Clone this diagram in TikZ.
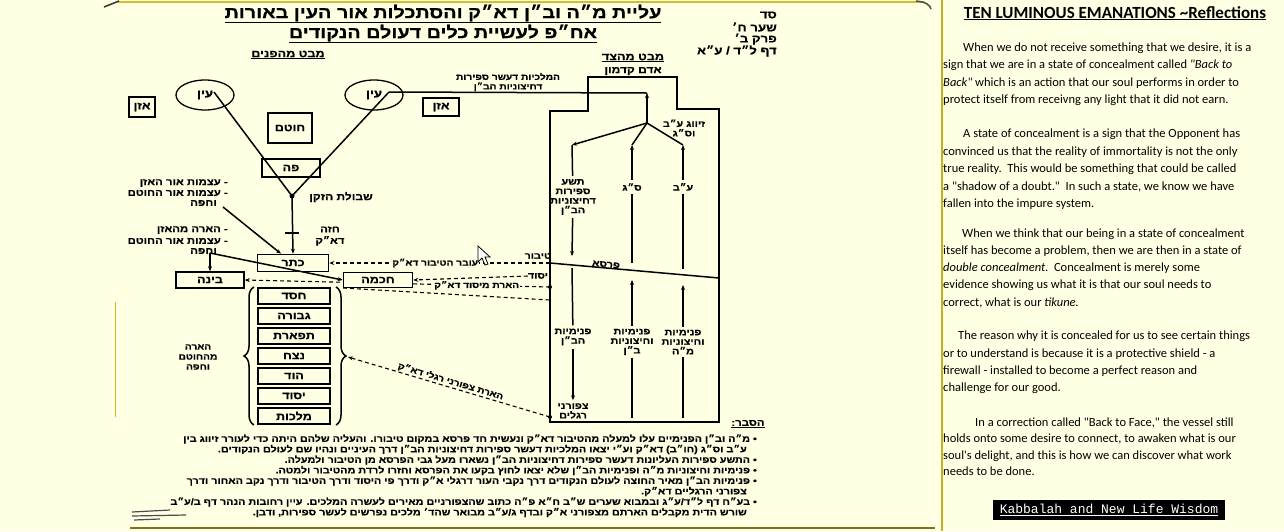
\documentclass[tikz,border=0pt]{standalone}
\usepackage{fontspec}
\setmainfont{Carlito}[Ligatures=TeXOff]
\newfontfamily\hebfont[Script=Hebrew,FakeStretch=1.2,BoldFeatures={FakeBold=0.6}]{Liberation Sans}
\newfontfamily\kbfont{Liberation Mono}
\TeXXeTstate=1
\usetikzlibrary{arrows.meta,shapes.geometric,decorations.pathreplacing}
\newcommand{\heb}[1]{{\hebfont\bfseries\beginR #1\endR}}
\definecolor{paper}{RGB}{255,255,228}
\definecolor{scanline}{RGB}{214,190,40}
\definecolor{panelline}{RGB}{196,176,30}

\begin{document}
\begin{tikzpicture}[x=1pt,y=-1pt,>={Stealth[length=5pt,width=4pt]},
    wire/.style={line width=1.5pt},
    dashline/.style={line width=1.1pt, dash pattern=on 4pt off 3pt},
    face/.style={draw, line width=1.5pt, fill=paper, inner sep=0pt, font=\fontsize{10.5}{11}\selectfont},
    sefira/.style={face, minimum width=72pt, minimum height=16pt},
    eye/.style={draw, ellipse, line width=1.3pt, inner sep=0pt, minimum width=58pt, minimum height=30pt, font=\fontsize{11}{12}\selectfont},
    lbl/.style={inner sep=0pt, align=center, font=\fontsize{9}{9.5}\selectfont},
    collbl/.style={lbl, inner sep=3pt},
    note/.style={anchor=east, inner sep=0pt, font=\fontsize{9.5}{10}\selectfont},
    hdr/.style={anchor=east, inner sep=0pt, font=\fontsize{11}{12}\selectfont},
    remark/.style={anchor=east, inner sep=0pt, font=\fontsize{9}{10}\selectfont},
    txt/.style={anchor=base west, inner sep=0pt, font=\fontsize{12.5}{15}\selectfont}]

  % paper
  \fill[paper] (0,0) rectangle (1284,531);
  \useasboundingbox (0,0) rectangle (1284,531);
  \draw[panelline, line width=1.2pt] (942,0) -- (942,531);
  \draw[scanline, line width=2pt] (118,2) -- (925,2);
  \draw[black!70, line width=1.5pt] (916,1) .. controls (926,2) and (930,5) .. (931,9);
  \draw[black!80, line width=1.5pt] (104,7) -- (119,1);
  \draw[scanline!60!black, line width=1.5pt] (130,528) -- (935,528);
  \draw[scanline, line width=0.8pt] (115,302) -- (115,417);
  \draw[black!70, line width=1.2pt] (132,512) -- (170,510) (132,516) -- (186,515) (134,520) -- (160,519);

  % titles
  \node[inner sep=0pt, font=\fontsize{16.5}{18}\selectfont] (titleA) at (443,14) {\underline{\heb{עליית מ״ה וב״ן דא״ק והסתכלות אור העין באורות}}};
  \node[inner sep=0pt, font=\fontsize{16.5}{18}\selectfont] (titleB) at (443,34) {\underline{\heb{אח״פ לעשיית כלים דעולם הנקודים}}};
  \node[hdr] (pg) at (777,15) {\heb{סד}};
  \node[hdr] (gate) at (777,27) {\heb{שער ח׳}};
  \node[hdr] (chap) at (777,39) {\heb{פרק ב׳}};
  \node[hdr] (leaf) at (777,51) {\heb{דף ל״ד / ע״א}};
  \node[lbl, font=\fontsize{10.5}{11}\selectfont] (frontview) at (288,55) {\underline{\heb{מבט מהפנים}}};
  \node[lbl, font=\fontsize{10.5}{11}\selectfont] (sideview) at (633,58) {\underline{\heb{מבט מהצד}}};

  % front view
  \node[eye] (eyeL) at (205,95) {\heb{עין}};
  \node[eye] (eyeR) at (374,95) {\heb{עין}};
  \node[face, minimum width=26pt, minimum height=20pt] (earL) at (142,107) {\heb{אזן}};
  \node[face, minimum width=36pt, minimum height=18pt] (earR) at (441,107) {\heb{אזן}};
  \node[face, minimum width=44pt, minimum height=30pt] (nose) at (290,128) {\heb{חוטם}};
  \node[face, fill=none, minimum width=58pt, minimum height=18pt] (mouth) at (291,168) {\heb{פה}};

  \coordinate (chin) at (292,196);
  \coordinate (eyeLin) at (214,92);
  \coordinate (eyeRin) at (389,92);
  \coordinate (malkh) at (647,93);
  \draw[wire] (eyeLin) -- (chin) -- (eyeRin);
  \draw[wire] (eyeRin) -- (malkh);
  \fill (chin) circle (2.5pt);
  \node[lbl, font=\fontsize{10}{11}\selectfont] (beard) at (341,197) {\heb{שבולת הזקן}};
  \node[lbl, font=\fontsize{9.5}{11.5}\selectfont] (chest) at (330,236) {\heb{חזה}\\\heb{דא״ק}};

  \node[face, minimum width=71pt, minimum height=17pt] (keter) at (293,263) {\heb{כתר}};
  \draw[wire,->] (chin) -- (keter.north);
  \coordinate (chestTick) at (292,233);
  \draw[wire] ([xshift=-7pt]chestTick) -- ([xshift=7pt]chestTick);

  \node[note] (light1a) at (228,183) {\heb{- עצמות אור האזן}};
  \node[note] (light1b) at (228,193) {\heb{- עצמות אור החוטם}};
  \node[note] (light1c) at (217,203) {\heb{וחפה}};
  \coordinate (light1end) at (223,207);
  \draw[wire,->] (light1end) -- ([xshift=-12pt]keter.north);

  \node[note] (light2a) at (228,230) {\heb{- הארה מהאזן}};
  \node[note] (light2b) at (228,241) {\heb{- עצמות אור החוטם}};
  \node[note] (light2c) at (217,251) {\heb{וחפה}};
  \coordinate (light2end) at (210,253);

  \node[face, minimum width=68pt, minimum height=16pt] (bina) at (210,280) {\heb{בינה}};
  \coordinate (wallYesod) at (550,287);
  \draw[dashline,->] (wallYesod) -- node[lbl, fill=paper, inner sep=1pt, font=\fontsize{8.5}{9}\selectfont, pos=0.24] {\heb{הארת מיסוד דא״ק}} (bina.east);
  \fill (wallYesod) circle (2pt);
  \node[face, minimum width=69pt, minimum height=15pt] (chochma) at (378,280) {\heb{חכמה}};
  \draw[wire,->] (light2end) -- (bina.north);
  \draw[wire,->] (light2end) -- (chochma.west);

  \foreach \name [count=\i] in {חסד,גבורה,תפארת,נצח,הוד,יסוד,מלכות}
    \node[sefira] (sef\i) at (294,276+20*\i) {\heb{\name}};
  \draw[wire, decorate, decoration={brace, amplitude=10pt}] (254,425) -- (254,287);
  \draw[wire, decorate, decoration={brace, amplitude=10pt}] (336,287) -- (336,425);
  \coordinate (braceR) at (348,357);
  \coordinate (braceTop) at (343,288);
  \node[lbl, font=\fontsize{8.5}{10}\selectfont] (glowL) at (198,357) {\heb{הארה}\\\heb{מהחוטם}\\\heb{וחפה}};

  % side view
  \draw[wire] (550,422) -- (550,111) -- (588,111) -- (588,77) -- (677,77) -- (677,109) -- (719,109) -- (719,422) -- cycle;
  \node[lbl, font=\fontsize{10}{11}\selectfont] (adam) at (633,71) {\heb{אדם קדמון}};
  \node[lbl, font=\fontsize{8.5}{9.5}\selectfont] (malkhLbl) at (508,82) {\heb{המלכיות דעשר ספירות}\\\heb{דחיצוניות הב״ן}};
  \coordinate (zivug) at (647,123);
  \draw[wire,->] (zivug) -- (malkh);
  \node[lbl] (zivugLbl) at (684,128) {\heb{זיווג ע״ב}\\\heb{וס״ג}};

  \coordinate (wallTibur) at (550,263);
  \coordinate (parsaR) at (719,278);
  \draw[wire] (wallTibur) -- node[lbl, sloped, above=0pt, pos=0.33] {\heb{פרסא}} (parsaR);

  \coordinate (nineTop) at (572,145);
  \coordinate (nineEnd) at (572,256);
  \node[collbl] (nine) at (573,197) {\heb{תשע}\\\heb{ספירות}\\\heb{דחיצוניות}\\\heb{הב״ן}};
  \draw[wire,->] (zivug) -- (nineTop);
  \draw[wire] (nineTop) -- (nine);
  \draw[wire,->] (nine) -- (nineEnd);

  \coordinate (sgTop) at (632,145);
  \coordinate (sgBot) at (632,263);
  \node[collbl] (sg) at (632,187) {\heb{ס״ג}};
  \draw[wire] (zivug) -- (sgTop);
  \draw[wire,->] (sg) -- (sgTop);
  \draw[wire] (sgBot) -- (sg);

  \coordinate (abTop) at (683,145);
  \coordinate (abBot) at (683,269);
  \node[collbl] (ab) at (683,187) {\heb{ע״ב}};
  \draw[wire] (zivug) -- (abTop);
  \draw[wire,->] (ab) -- (abTop);
  \draw[wire] (abBot) -- (ab);

  \coordinate (pnimTop) at (572,268);
  \node[collbl] (pnimBn) at (573,337) {\heb{פנימיות}\\\heb{הב״ן}};
  \node[collbl] (toes) at (573,411) {\heb{צפורני}\\\heb{רגלים}};
  \draw[wire] (pnimTop) -- (pnimBn);
  \draw[wire,->] (pnimBn) -- (toes);

  \coordinate (bnTop) at (632,280);
  \coordinate (bnBot) at (632,418);
  \node[collbl] (bnMid) at (632,342) {\heb{פנימיות}\\\heb{וחיצוניות}\\\heb{ב״ן}};
  \draw[wire,->] (bnMid) -- (bnTop);
  \draw[wire] (bnMid) -- (bnBot);

  \coordinate (mhTop) at (683,285);
  \coordinate (mhBot) at (683,418);
  \node[collbl] (mh) at (683,342) {\heb{פנימיות}\\\heb{וחיצוניות}\\\heb{מ״ה}};
  \draw[wire,->] (mh) -- (mhTop);
  \draw[wire] (mh) -- (mhBot);

  % lights from the side view to the front view
  \node[lbl] (tiburLbl) at (538,256) {\heb{טיבור}};
  \draw[dashline,->] (wallTibur) -- node[lbl, fill=paper, inner sep=1pt, font=\fontsize{8.5}{9}\selectfont, pos=0.52] {\heb{עובר הטיבור דא״ק}} (keter.east);
  \node[lbl] (yesodLbl) at (538,276) {\heb{יסוד}};
  \draw[dashline,->] (yesodLbl.west) -- (chochma.east);
  \coordinate (wallChesed) at (550,300);
  \draw[dashline] (braceTop) -- (wallChesed);
  \coordinate (wallToes) at (550,417);
  \draw[dashline,->] (wallToes) -- node[lbl, sloped, above=1pt, font=\fontsize{8.5}{9}\selectfont, pos=0.5] {\heb{הארת צפורני רגלי דא״ק}} (braceR);
  \fill (wallToes) circle (2pt);
  \draw[fill=white, line width=0.8pt] (478,246) -- (478,262) -- (482,258) -- (485,265) -- (488,264) -- (485,257) -- (490,257) -- cycle;

  % explanation
  \node[lbl, font=\fontsize{9.5}{10}\selectfont] (expl) at (748,424) {\underline{\heb{הסבר:}}};
  \node[remark] (r1) at (757,439) {\heb{• מ״ה וב״ן הפנימיים עלו למעלה מהטיבור דא״ק ונעשית חד פרסא במקום טיבורו. והעליה שלהם היתה כדי לעורר זיווג בין}};
  \node[remark] (r2) at (747,449.5) {\heb{ע״ב וס״ג (חו״ב) דא״ק וע״י יצאו המלכיות דעשר ספירות דחיצוניות הב״ן דרך העיניים ונהיו שם לעולם הנקודים.}};
  \node[remark] (r3) at (757,460) {\heb{• התשע ספירות העליונות דעשר ספירות דחיצוניות הב״ן נשארו מעל גבי הפרסא מן הטיבור ולמעלה.}};
  \node[remark] (r4) at (757,470.5) {\heb{• פנימיות וחיצוניות מ״ה ופנימיות הב״ן שלא יצאו לחוץ בקעו את הפרסא וחזרו לרדת מהטיבור ולמטה.}};
  \node[remark] (r5) at (757,481) {\heb{• פנימיות הב״ן מאיר החוצה לעולם הנקודים דרך נקבי העור דרגלי א״ק ודרך פי היסוד ודרך הטיבור ודרך נקב האחור ודרך}};
  \node[remark] (r6) at (747,491.5) {\heb{צפורני הרגליים דא״ק.}};
  \node[remark] (r7) at (757,502) {\heb{• בע״ח דף ל״ד/ע״ג ובמבוא שערים ש״ב ח״א פ״ה כתוב שהצפורניים מאירים לעשרה המלכים. עיין רחובות הנהר דף ב/ע״ב}};
  \node[remark] (r8) at (747,512.5) {\heb{שורש הדית מקבלים הארתם מצפורני א״ק ובדף ג/ע״ב מבואר שהד׳ מלכים נפרשים לעשר ספירות, ודבן.}};

  % reflections panel
  \node[anchor=base, inner sep=0pt, font=\bfseries\fontsize{17}{20}\selectfont] (panelTitle) at (1115,18) {\underline{TEN LUMINOUS EMANATIONS \textasciitilde Reflections}};
  \node[txt] (p1a) at (963,51) {When we do not receive something that we desire, it is a};
  \node[txt] (p1b) at (943,68) {sign that we are in a state of concealment called \textit{"Back to}};
  \node[txt] (p1c) at (943,86) {\textit{Back"} which is an action that our soul performs in order to};
  \node[txt] (p1d) at (943,103) {protect itself from receivng any light that it did not earn.};
  \node[txt] (p2a) at (963,137) {A state of concealment is a sign that the Opponent has};
  \node[txt] (p2b) at (943,155) {convinced us that the reality of immortality is not the only};
  \node[txt] (p2c) at (943,172) {true reality.\ \ This would be something that could be called};
  \node[txt] (p2d) at (943,190) {a "shadow of a doubt."\ \ In such a state, we know we have};
  \node[txt] (p2e) at (943,207) {fallen into the impure system.};
  \node[txt] (p3a) at (962,237) {When we think that our being in a state of concealment};
  \node[txt] (p3b) at (943,254) {itself has become a problem, then we are then in a state of};
  \node[txt] (p3c) at (943,271) {\textit{double concealment}.\ \ Concealment is merely some};
  \node[txt] (p3d) at (943,288) {evidence showing us what it is that our soul needs to};
  \node[txt] (p3e) at (943,306) {correct, what is our \textit{tikune.}};
  \node[txt] (p4a) at (958,339) {The reason why it is concealed for us to see certain things};
  \node[txt] (p4b) at (943,357) {or to understand is because it is a protective shield - a};
  \node[txt] (p4c) at (943,374) {firewall - installed to become a perfect reason and};
  \node[txt] (p4d) at (943,391) {challenge for our good.};
  \node[txt] (p5a) at (975,426) {In a correction called "Back to Face," the vessel still};
  \node[txt] (p5b) at (943,442) {holds onto some desire to connect, to awaken what is our};
  \node[txt] (p5c) at (943,459) {soul's delight, and this is how we can discover what work};
  \node[txt] (p5d) at (943,475) {needs to be done.};
  \node[fill=black, text=white, inner sep=0pt, minimum width=232pt, minimum height=20pt, font=\kbfont\fontsize{13}{15}\selectfont] (brand) at (1109,510) {\underline{Kabbalah and New Life Wisdom}};
\end{tikzpicture}
\end{document}
